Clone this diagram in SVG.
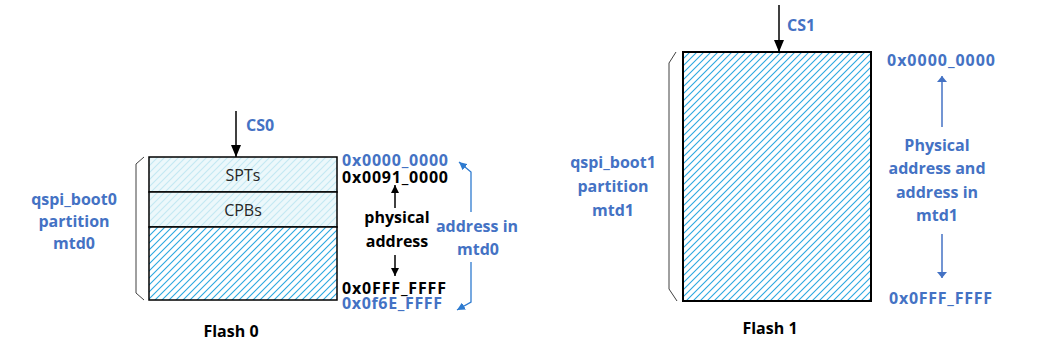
<svg xmlns="http://www.w3.org/2000/svg" width="1045" height="351" viewBox="0 0 1045 351">
<defs>
<style>
.t{font-family:"Open Sans","DejaVu Sans",sans-serif;font-weight:bold;font-size:16px}
.blue{fill:#4472c4}
.blk{fill:#000}
.reg{font-family:"Open Sans","DejaVu Sans",sans-serif;font-size:16px;fill:#262626}
.box{stroke:#000;stroke-width:1.5}
.br{fill:none;stroke:#404040;stroke-width:1}
.ak{stroke:#000;stroke-width:1.5;fill:none}
.ab{stroke:#4472c4;stroke-width:1.5;fill:none}
.am{stroke:#2e7bd0;stroke-width:1.3;fill:none}
</style>
<pattern id="hd" patternUnits="userSpaceOnUse" width="7" height="7">
<rect width="7" height="7" fill="#fff"/>
<path d="M-1,8 L8,-1 M-1,1 L1,-1 M6,8 L8,6" stroke="#2aa8e0" stroke-width="1.1"/>
</pattern>
<pattern id="hl" patternUnits="userSpaceOnUse" width="7" height="7">
<rect width="7" height="7" fill="#ecf8fb"/>
<path d="M-1,8 L8,-1 M-1,1 L1,-1 M6,8 L8,6" stroke="#c3e9f3" stroke-width="1.1"/>
</pattern>
<marker id="mk" markerUnits="userSpaceOnUse" markerWidth="12" markerHeight="10" refX="12" refY="5" orient="auto">
<path d="M0,0 L12,5 L0,10 z" fill="#000"/>
</marker>
<marker id="ms" markerUnits="userSpaceOnUse" markerWidth="8" markerHeight="8" refX="8" refY="4" orient="auto">
<path d="M0,0 L8,4 L0,8 z" fill="#000"/>
</marker>
<marker id="mb" markerUnits="userSpaceOnUse" markerWidth="6" markerHeight="10" refX="6" refY="5" orient="auto">
<path d="M0,0 L6,5 L0,10 z" fill="#4472c4"/>
</marker>
<marker id="mm" markerUnits="userSpaceOnUse" markerWidth="8" markerHeight="8" refX="8" refY="4" orient="auto">
<path d="M0,0 L8,4 L0,8 z" fill="#2e7bd0"/>
</marker>
</defs>
<rect width="1045" height="351" fill="#fff"/>

<g id="flash0">
<rect x="149" y="157" width="188" height="35" fill="url(#hl)" class="box"/>
<rect x="149" y="192" width="188" height="35" fill="url(#hl)" class="box"/>
<rect x="149" y="227" width="188" height="73" fill="url(#hd)" class="box"/>
<text x="243" y="181" text-anchor="middle" class="reg">SPTs</text>
<text x="243" y="216" text-anchor="middle" class="reg">CPBs</text>
<path d="M144,157 L136,164 L136,293 L144,300" class="br"/>
<text x="74" y="205" text-anchor="middle" class="t blue">qspi_boot0</text>
<text x="74" y="227" text-anchor="middle" class="t blue">partition</text>
<text x="74" y="249" text-anchor="middle" class="t blue">mtd0</text>
<text x="231" y="337" text-anchor="middle" class="t blk">Flash 0</text>
<text x="246" y="131" class="t blue">CS0</text>
<text x="342" y="166" class="t blue" textLength="106">0x0000_0000</text>
<text x="342" y="183" class="t blk" textLength="106">0x0091_0000</text>
<text x="397" y="223" text-anchor="middle" class="t blk">physical</text>
<text x="397" y="247" text-anchor="middle" class="t blk">address</text>
<text x="342" y="294" class="t blk" textLength="104">0x0FFF_FFFF</text>
<text x="342" y="309" class="t blue" textLength="100">0x0f6E_FFFF</text>
<text x="477" y="232" text-anchor="middle" class="t blue">address in</text>
<text x="478" y="255" text-anchor="middle" class="t blue">mtd0</text>
</g>

<g id="flash1">
<rect x="683" y="52" width="188" height="249" fill="url(#hd)" stroke="#000" stroke-width="2"/>
<path d="M676,52 L669,63 L669,289 L677,301" class="br"/>
<text x="613" y="168" text-anchor="middle" class="t blue">qspi_boot1</text>
<text x="613" y="192" text-anchor="middle" class="t blue">partition</text>
<text x="613" y="216" text-anchor="middle" class="t blue">mtd1</text>
<text x="770" y="334" text-anchor="middle" class="t blk">Flash 1</text>
<text x="787" y="31" class="t blue">CS1</text>
<text x="887" y="66" class="t blue" textLength="108">0x0000_0000</text>
<text x="937" y="151" text-anchor="middle" class="t blue">Physical</text>
<text x="937" y="174" text-anchor="middle" class="t blue">address and</text>
<text x="937" y="198" text-anchor="middle" class="t blue">address in</text>
<text x="937" y="221" text-anchor="middle" class="t blue">mtd1</text>
<text x="889" y="304" class="t blue" textLength="103">0x0FFF_FFFF</text>
</g>

<g id="connectors">
<line x1="236" y1="111" x2="236" y2="157" class="ak" marker-end="url(#mk)"/>
<line x1="779" y1="5" x2="779" y2="52" class="ak" marker-end="url(#mk)"/>
<line x1="395" y1="208" x2="395" y2="185" class="ak" marker-end="url(#ms)"/>
<line x1="395" y1="255" x2="395" y2="276" class="ak" marker-end="url(#ms)"/>
<line x1="942" y1="127" x2="942" y2="76" class="ab" marker-end="url(#mb)"/>
<line x1="942" y1="234" x2="942" y2="278" class="ab" marker-end="url(#mb)"/>
<path d="M471,212 L471,172 L459,162" class="am" marker-end="url(#mm)"/>
<path d="M471,262 L471,302 L457,310" class="am" marker-end="url(#mm)"/>
</g>
</svg>
